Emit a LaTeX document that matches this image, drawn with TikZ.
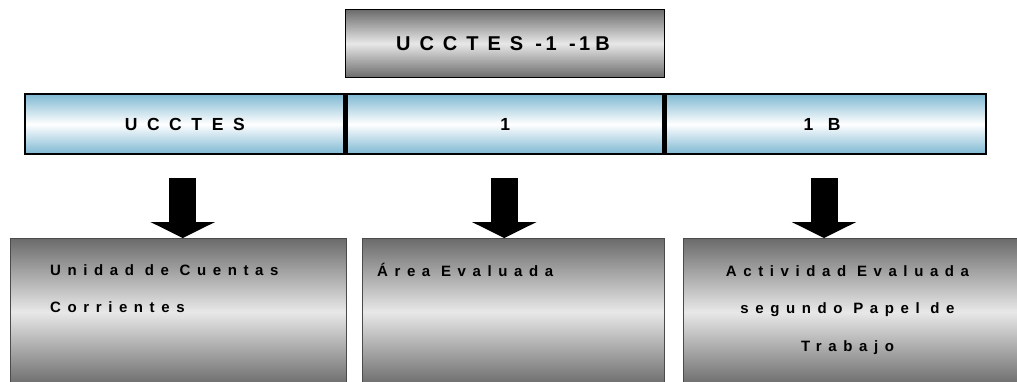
\documentclass[tikz,border=0pt]{standalone}
\usepackage{fontspec}
\setmainfont{Liberation Sans}
\usepackage{tikz}
\usetikzlibrary{calc,positioning,arrows.meta}
\definecolor{steel}{HTML}{6B6B6B}
\definecolor{glow}{HTML}{E8E8E8}
\definecolor{sky}{HTML}{7EB8D2}
% tracked bold faces, one per row
\newfontfamily\codefont[LetterSpace=17]{Liberation Sans}
\newfontfamily\partfont[LetterSpace=27]{Liberation Sans}
\newfontfamily\notefont[LetterSpace=44]{Liberation Sans}

\begin{document}
\begin{tikzpicture}[x=1pt,y=-1pt,
  codebox/.style={draw=black, line width=1.5pt, top color=steel,
    bottom color=steel, middle color=glow, minimum width=319pt,
    minimum height=68pt, inner sep=0pt,
    font=\codefont\bfseries\fontsize{20}{24}\selectfont},
  part/.style={draw=black, line width=2.5pt, top color=sky,
    bottom color=sky, middle color=white, minimum height=60pt,
    inner sep=0pt, font=\partfont\bfseries\fontsize{17.5}{21}\selectfont},
  card/.style={draw=steel!70!black, line width=1pt, top color=steel,
    bottom color=steel, middle color=glow, anchor=north west,
    minimum height=147pt, inner sep=0pt},
  note/.style={inner sep=0pt,
    font=\notefont\bfseries\fontsize{15}{37.5}\selectfont},
  drop/.style={line width=27pt, -{Triangle[length=16pt,width=64pt]}}]
\useasboundingbox (0,0) rectangle (1017,381);
\clip (0,0) rectangle (1017,381);

% code on top
\node[codebox] (code) at (505,43.5)
  {U C C T E S \,-\kern3.5pt1 \,-\kern3.5pt1\kern5pt B\kern4pt};

% the three parts of the code
\node[part, minimum width=319.5pt] (unitpart) at (184.75,124) {U C C T E S};
\node[part, minimum width=316.5pt, right=0pt of unitpart] (areapart) {1};
\node[part, minimum width=320pt, right=0pt of areapart] (taskpart)
  {1\kern5pt\ B\kern8pt};

% what each part stands for
\node[card, minimum width=336pt] (unitcard) at (9.5,238) {};
\node[card, minimum width=302pt] (areacard) at (361.5,238) {};
\node[card, minimum width=340pt] (taskcard) at (682.5,238) {};

\node[note, anchor=north west, align=left] (unittext)
  at ($(unitcard.north west)+(40.5,26)$) {Unidad de Cuentas\\Corrientes};
\node[note, anchor=base west] (areatext)
  at ($(areacard.north west)+(15.5,38.5)$) {Área Evaluada};
\node[note, anchor=north, align=center] (tasktext)
  at ($(taskcard.north)+(-5.5,27)$)
  {Actividad Evaluada\\segundo Papel de\\Trabajo};

\draw[drop] ([xshift=-2pt,yshift=-23pt]unitpart.south)
  -- ([xshift=-2pt]unitpart.south |- unitcard.north);
\draw[drop] ([xshift=-1pt,yshift=-23pt]areapart.south)
  -- ([xshift=-1pt]areapart.south |- areacard.north);
\draw[drop] ([xshift=-2pt,yshift=-23pt]taskpart.south)
  -- ([xshift=-2pt]taskpart.south |- taskcard.north);

\end{tikzpicture}
\end{document}
